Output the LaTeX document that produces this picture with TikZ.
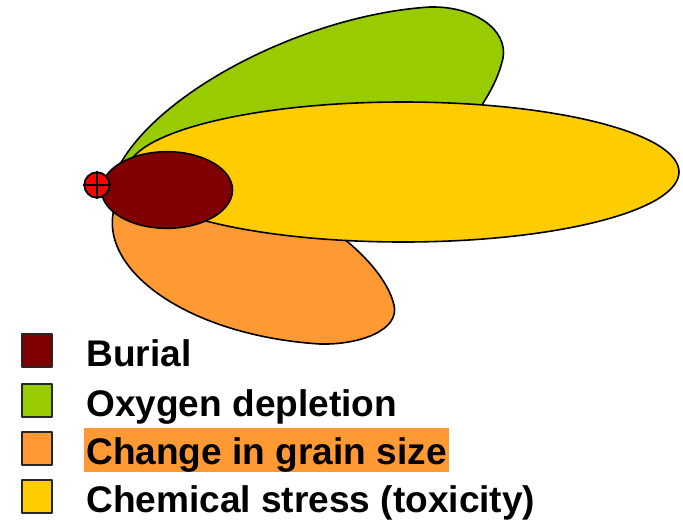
\documentclass[tikz,border=0pt]{standalone}
\usepackage{fontspec}
\setmainfont{Liberation Sans}
\definecolor{burial}{RGB}{128,0,0}
\definecolor{oxygen}{RGB}{153,204,0}
\definecolor{grain}{RGB}{255,153,51}
\definecolor{toxic}{RGB}{255,204,0}
\begin{document}
\begin{tikzpicture}[x=0.75pt, y=-0.75pt, line join=round,
  lobe/.style={draw=black,line width=1.2pt},
  legbox/.style={draw=black!85,line width=1.5pt,minimum width=22.5pt,minimum height=24.75pt,inner sep=0pt},
  legtext/.style={anchor=base west,inner sep=0pt,font=\fontsize{27.8}{33}\selectfont\bfseries}]
\useasboundingbox (0,0) rectangle (683,519);
% lobes
\draw[lobe,fill=oxygen] (112,182) .. controls (140,100) and (300,15) .. (430,7) .. controls (475,6) and (508,30) .. (503,58) .. controls (498,80) and (488,96) .. (476,114) .. controls (400,170) and (200,190) .. cycle;
\draw[lobe,fill=grain] (118,198) .. controls (88,262) and (180,335) .. (320,344) .. controls (360,345) and (400,330) .. (394,305) .. controls (388,280) and (365,255) .. (338,234) .. controls (280,215) and (180,205) .. cycle;
\draw[lobe,fill=toxic] (403,172) ellipse (276 and 70);
\draw[lobe,fill=burial] (167,190) ellipse (65.5 and 38.3);
% source
\node[circle,draw,fill=red,line width=1.4pt,minimum size=19pt,inner sep=0pt] (src) at (97,185) {};
\draw[line width=1.4pt] (src.north)--(src.south) (src.west)--(src.east);
% legend
\node[legbox,fill=burial] (k1) at (37,350) {}; \node[legtext] (t1) at (86,366) {Burial};
\node[legbox,fill=oxygen] (k2) at (37,400.5) {}; \node[legtext] (t2) at (86,416.5) {Oxygen depletion};
\node[legbox,fill=grain] (k3) at (37,448.5) {}; \node[legtext,fill=grain,inner xsep=1.5pt,text height=27.4pt,text depth=5.6pt] (t3) at (84,464.5) {Change in grain size};
\node[legbox,fill=toxic] (k4) at (37,496.5) {}; \node[legtext] (t4) at (86,512.5) {Chemical stress (toxicity)};
\end{tikzpicture}
\end{document}
